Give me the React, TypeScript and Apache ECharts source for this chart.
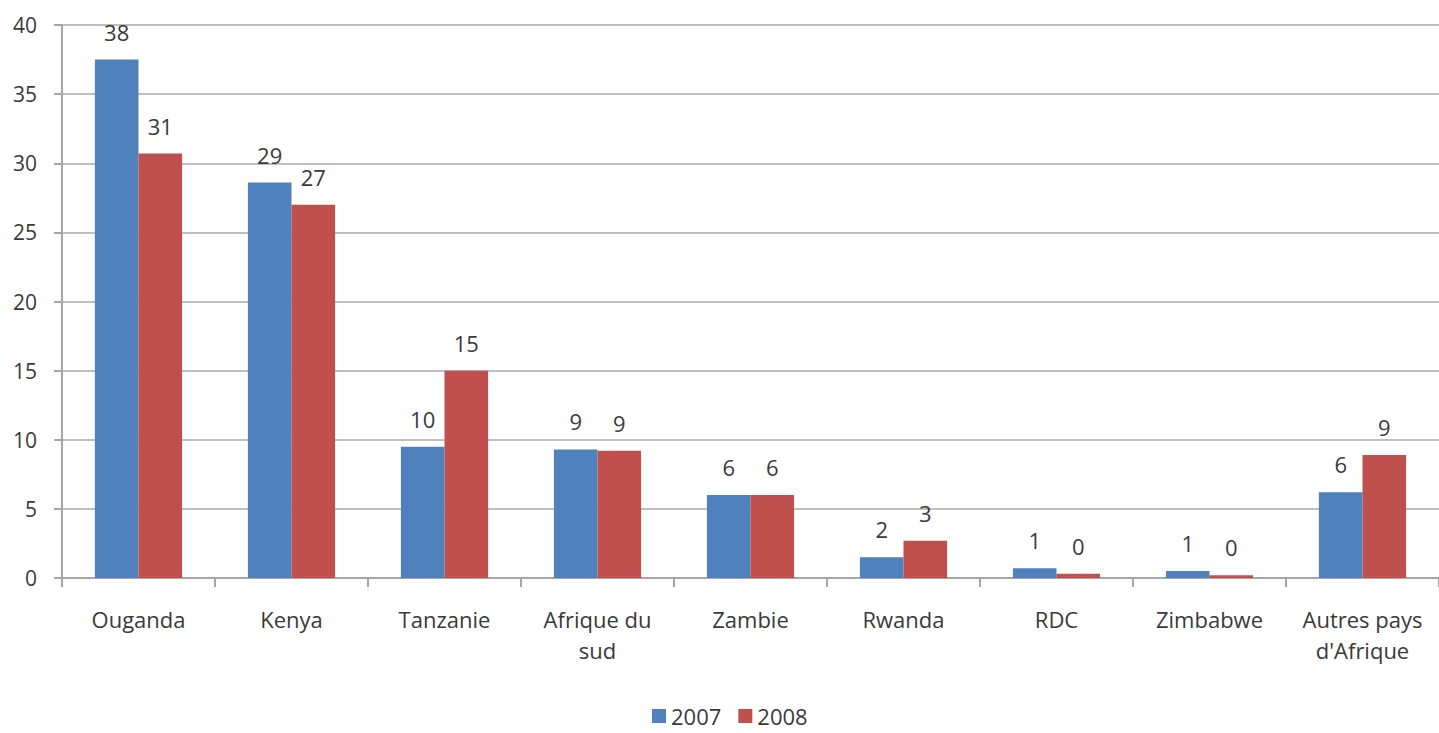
import React, { useEffect, useRef } from "react";
import * as echarts from "echarts";

const categories = ["Ouganda", "Kenya", "Tanzanie", "Afrique du\nsud", "Zambie", "Rwanda", "RDC", "Zimbabwe", "Autres pays\nd'Afrique"];
const values2007 = [37.5, 28.6, 9.5, 9.3, 6.0, 1.5, 0.7, 0.5, 6.2];
const values2008 = [30.7, 27.0, 15.0, 9.2, 6.0, 2.7, 0.3, 0.2, 8.9];
const seriesNames = ["2007", "2008"];
const yTicks = { min: 0, max: 40, interval: 5 };

const FONT = "'Open Sans', 'Liberation Sans', sans-serif";
const TEXT = "#3a3a3a";

export default function App() {
  const ref = useRef<HTMLDivElement>(null);
  useEffect(() => {
    if (!ref.current) return;
    const chart = echarts.init(ref.current, undefined, { renderer: "svg" });
    const label = {
      show: true,
      position: "top",
      distance: 17,
      color: TEXT,
      fontSize: 22,
      fontFamily: FONT,
      formatter: (p: any) => String(Math.round(p.value)),
    };
    chart.setOption({
      animation: false,
      textStyle: { fontFamily: FONT },
      grid: { left: 62, top: 25, width: 1392, height: 553, containLabel: false },
      legend: {
        left: 652,
        top: 705,
        padding: 0,
        itemWidth: 14,
        itemHeight: 14,
        itemGap: 17,
        icon: "rect",
        textStyle: { color: TEXT, fontSize: 22, fontFamily: FONT, lineHeight: 22 },
        data: seriesNames,
      },
      xAxis: {
        type: "category",
        data: categories,
        axisLine: { lineStyle: { color: "#a6a6a6", width: 2 } },
        axisTick: { show: true, alignWithLabel: false, length: 9, lineStyle: { color: "#a6a6a6", width: 2 } },
        axisLabel: { color: TEXT, fontSize: 22, fontFamily: FONT, margin: 25, lineHeight: 31, interval: 0 },
      },
      yAxis: {
        type: "value",
        min: yTicks.min,
        max: yTicks.max,
        interval: yTicks.interval,
        axisLine: { show: true, lineStyle: { color: "#a6a6a6", width: 2 } },
        axisTick: { show: true, length: 8, lineStyle: { color: "#a6a6a6", width: 2 } },
        axisLabel: { color: TEXT, fontSize: 21, fontFamily: FONT, margin: 25 },
        splitLine: { show: true, lineStyle: { color: "#bfbfbf", width: 2 } },
      },
      series: [
        {
          name: seriesNames[0],
          type: "bar",
          data: values2007,
          barGap: "0%",
          barCategoryGap: "43%",
          itemStyle: { color: "#4f81bd" },
          label,
        },
        {
          name: seriesNames[1],
          type: "bar",
          data: values2008,
          barGap: "0%",
          barCategoryGap: "43%",
          itemStyle: { color: "#c0504d" },
          label,
        },
      ],
    });
    return () => chart.dispose();
  }, []);
  return (
    <div
      ref={ref}
      style={{ position: "fixed", left: 0, top: 0, width: 1439, height: 733, background: "#fff" }}
    />
  );
}
